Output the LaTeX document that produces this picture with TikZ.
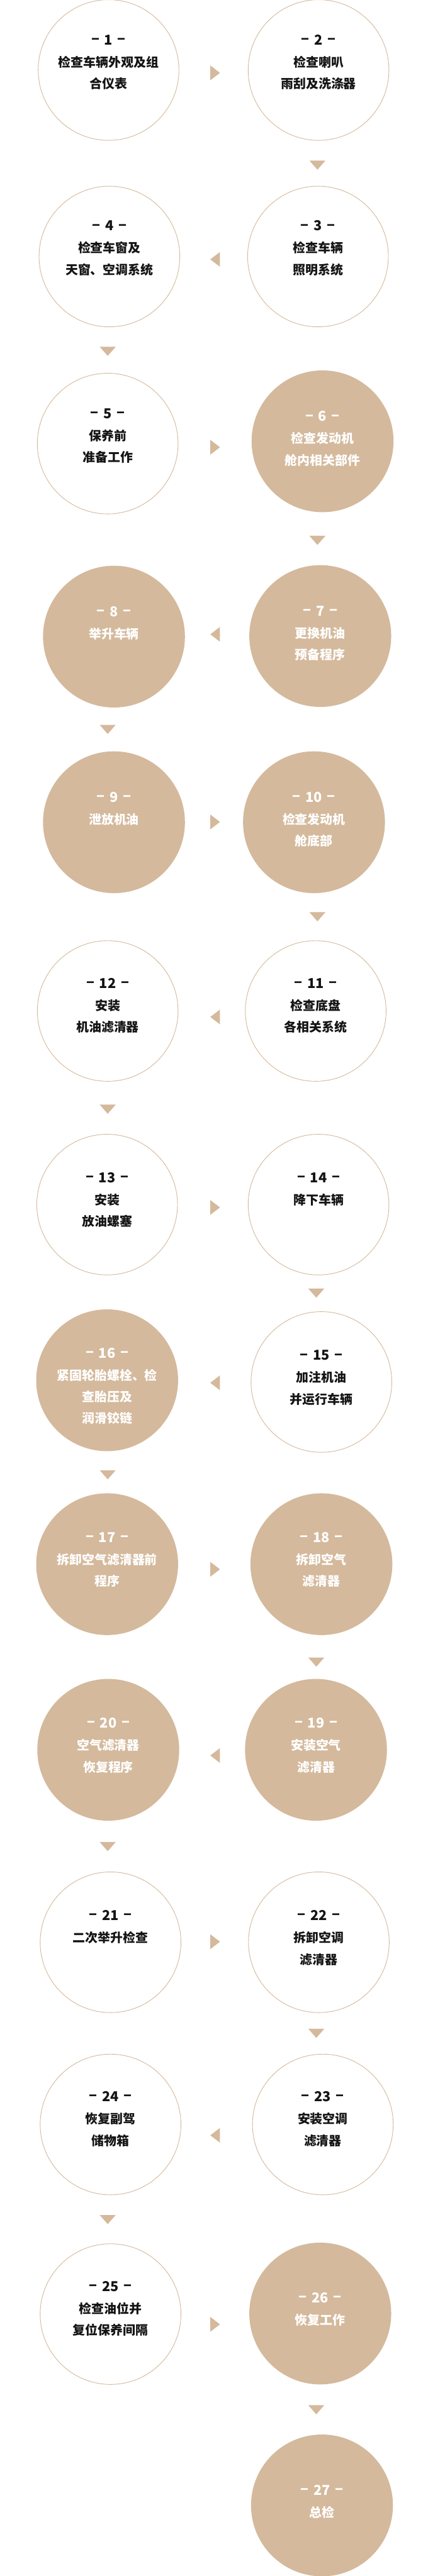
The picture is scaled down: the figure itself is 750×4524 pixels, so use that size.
\documentclass[tikz,border=0pt]{standalone}
\usepackage{fontspec}
\setmainfont{Noto Sans CJK SC}
\usetikzlibrary{calc}
\definecolor{tanc}{RGB}{212,185,156}
\definecolor{inkc}{RGB}{20,20,20}
\newcommand\cnfnt{\fontsize{22}{26}\selectfont\bfseries}
\newcommand\numfnt{\fontsize{24}{28}\selectfont\bfseries}
\newcommand\dsh{\raisebox{3pt}{\scalebox{1.8}[1]{-}}}
\tikzset{
  circw/.style={circle, minimum size=247pt, inner sep=0pt, draw=tanc, line width=1pt, fill=white},
  circf/.style={circle, minimum size=249pt, inner sep=0pt, fill=tanc},
  numw/.style={inner sep=0pt, font=\numfnt, text=inkc},
  numf/.style={inner sep=0pt, font=\numfnt, text=white},
  txtw/.style={inner sep=0pt, font=\cnfnt, text=inkc},
  txtf/.style={inner sep=0pt, font=\cnfnt, text=white},
  tri/.style={fill=tanc, draw=none}
}
\newcommand\stp[7]{%
  \node[circ#4] (c#1) at (#2,#3) {};
  \node[num#4, anchor=base] (n#1) at (#2,{#3+#5+8.7}) {\dsh\hspace{7.5pt}#6\hspace{7.5pt}\dsh};
  \foreach \l [count=\i] in {#7} {
    \node[txt#4, anchor=base] (t#1-\i) at (#2,{#3+#5+47.4+(\i-1)*38}) {\l};
  }%
}
\newcommand\myRA[1]{\fill[tri] (369,{#1-13}) -- (386,#1) -- (369,{#1+13}) -- cycle;}
\newcommand\myLA[1]{\fill[tri] (386,{#1-13}) -- (369,#1) -- (386,{#1+13}) -- cycle;}
\newcommand\myDA[2]{\fill[tri] ({#1-14},#2) -- ({#1+14},#2) -- (#1,{#2+16}) -- cycle;}
\begin{document}
\begin{tikzpicture}[x=1pt,y=-1pt]
\useasboundingbox[fill=white] (0,0) rectangle (750,4524);
\stp{1}{190.5}{123}{w}{-53}{1}{检查车辆外观及组,合仪表}
\stp{2}{559}{123}{w}{-53}{2}{检查喇叭,雨刮及洗涤器}
\stp{3}{558}{450.5}{w}{-54}{3}{检查车辆,照明系统}
\stp{4}{192}{450.5}{w}{-54}{4}{检查车窗及,天窗、空调系统}
\stp{5}{189}{779}{w}{-53}{5}{保养前,准备工作}
\stp{6}{566}{775}{f}{-44}{6}{检查发动机,舱内相关部件}
\stp{7}{562}{1117}{f}{-44}{7}{更换机油,预备程序}
\stp{8}{200}{1118}{f}{-44}{8}{举升车辆}
\stp{9}{200}{1444}{f}{-44}{9}{泄放机油}
\stp{10}{551}{1444}{f}{-44}{10}{检查发动机,舱底部}
\stp{11}{554}{1775.5}{w}{-49}{11}{检查底盘,各相关系统}
\stp{12}{189}{1775.5}{w}{-49}{12}{安装,机油滤清器}
\stp{13}{188}{2115.5}{w}{-47.5}{13}{安装,放油螺塞}
\stp{14}{559}{2115.5}{w}{-47.5}{14}{降下车辆}
\stp{15}{564}{2427}{w}{-47}{15}{加注机油,并运行车辆}
\stp{16}{188}{2424}{f}{-48}{16}{紧固轮胎螺栓、检,查胎压及,润滑铰链}
\stp{17}{188}{2747}{f}{-47}{17}{拆卸空气滤清器前,程序}
\stp{18}{564}{2747}{f}{-47}{18}{拆卸空气,滤清器}
\stp{19}{554.5}{3073}{f}{-47}{19}{安装空气,滤清器}
\stp{20}{190}{3073}{f}{-47}{20}{空气滤清器,恢复程序}
\stp{21}{194}{3411}{w}{-47}{21}{二次举升检查}
\stp{22}{559.5}{3411}{w}{-47}{22}{拆卸空调,滤清器}
\stp{23}{566.5}{3731}{w}{-49}{23}{安装空调,滤清器}
\stp{24}{194}{3731}{w}{-49}{24}{恢复副驾,储物箱}
\stp{25}{194}{4064}{w}{-49}{25}{检查油位并,复位保养间隔}
\stp{26}{562}{4063}{f}{-28}{26}{恢复工作}
\stp{27}{565}{4400}{f}{-26.5}{27}{总检}
% right-pointing markers
\myRA{128}
\myRA{785.5}
\myRA{1443.5}
\myRA{2120.5}
\myRA{2756}
\myRA{3410}
\myRA{4082}
% left-pointing markers
\myLA{455.5}
\myLA{1114}
\myLA{1786}
\myLA{2428.5}
\myLA{3083}
\myLA{3750}
% down-pointing markers, right column
\myDA{557}{282}
\myDA{557}{941}
\myDA{557}{1602}
\myDA{555}{2263}
\myDA{555}{2911}
\myDA{555}{3563}
\myDA{555}{4224}
% down-pointing markers, left column
\myDA{189}{609}
\myDA{189}{1273}
\myDA{189}{1940}
\myDA{189}{2582}
\myDA{189}{3235}
\myDA{189}{3890}
\end{tikzpicture}
\end{document}
